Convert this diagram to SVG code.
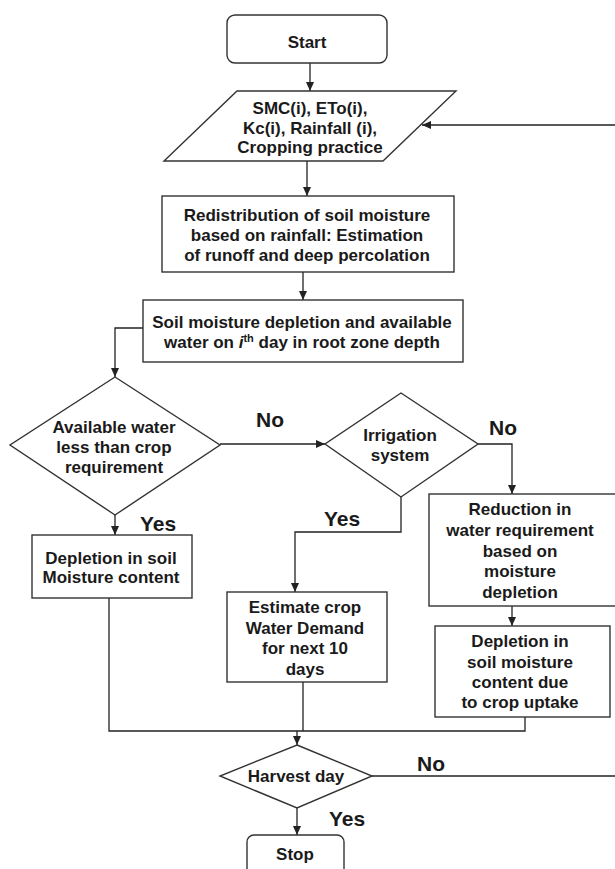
<svg xmlns="http://www.w3.org/2000/svg" width="615" height="869" viewBox="0 0 615 869">
<defs>
<marker id="ah" markerUnits="userSpaceOnUse" markerWidth="9" markerHeight="8" refX="9" refY="4" orient="auto">
<path d="M0,0 L9,4 L0,8 z" fill="#222"/>
</marker>
<style>
.n{fill:#fff;stroke:#333;stroke-width:1.4}
.t{font-family:"Liberation Sans",Arial,sans-serif;font-weight:bold;font-size:17px;fill:#1a1a1a;text-anchor:middle}
.l{font-family:"Liberation Sans",Arial,sans-serif;font-weight:bold;font-size:21px;fill:#1a1a1a;text-anchor:middle}
.c{fill:none;stroke:#222;stroke-width:1.3}
.a{marker-end:url(#ah)}
</style>
</defs>
<rect width="615" height="869" fill="#fff"/>
<g id="connectors">
<path class="c a" d="M310,63 V91"/>
<path class="c a" d="M615,125 H422"/>
<path class="c a" d="M307,161 V196"/>
<path class="c a" d="M303,272 V300"/>
<path class="c a" d="M143,328 H115 V377"/>
<path class="c a" d="M220,444 H325"/>
<path class="c a" d="M478,444 H512 V494"/>
<path class="c a" d="M401,497 V532 H295 V592"/>
<path class="c a" d="M115,515 V535"/>
<path class="c a" d="M512,606 V626"/>
<path class="c" d="M109,598 V731 H525 V717"/>
<path class="c" d="M303,682 V731"/>
<path class="c a" d="M297,731 V745"/>
<path class="c" d="M372,776 H615"/>
<path class="c a" d="M297,808 V835"/>
</g>
<g id="labels">
<text class="l" x="270" y="427">No</text>
<text class="l" x="503" y="435">No</text>
<text class="l" x="158" y="531">Yes</text>
<text class="l" x="342" y="526">Yes</text>
<text class="l" x="431" y="771">No</text>
<text class="l" x="347" y="826">Yes</text>
</g>
<g id="start">
<rect class="n" x="227" y="15" width="160" height="48" rx="8"/>
<text class="t" x="307" y="48">Start</text>
</g>
<g id="input">
<polygon class="n" points="237,91 456,91 383,161 164,161"/>
<text class="t" x="310" y="114">SMC(i), ETo(i),</text>
<text class="t" x="310" y="134">Kc(i), Rainfall (i),</text>
<text class="t" x="310" y="153">Cropping practice</text>
</g>
<g id="redistribution">
<rect class="n" x="162" y="196" width="292" height="76"/>
<text class="t" x="307" y="221">Redistribution of soil moisture</text>
<text class="t" x="307" y="241">based on rainfall: Estimation</text>
<text class="t" x="307" y="261">of runoff and deep percolation</text>
</g>
<g id="soilmoisture">
<rect class="n" x="143" y="300" width="320" height="62"/>
<text class="t" x="302" y="328">Soil moisture depletion and available</text>
<text class="t" x="302" y="348">water on <tspan font-style="italic">i</tspan><tspan font-size="11" dy="-6">th</tspan><tspan dy="6"> day in root zone depth</tspan></text>
</g>
<g id="decision-water">
<polygon class="n" points="115,377 220,445 115,515 10,445"/>
<text class="t" x="114" y="433">Available water</text>
<text class="t" x="114" y="453">less than crop</text>
<text class="t" x="114" y="473">requirement</text>
</g>
<g id="decision-irrigation">
<polygon class="n" points="401,393 478,444 401,497 325,444"/>
<text class="t" x="400" y="441">Irrigation</text>
<text class="t" x="400" y="461">system</text>
</g>
<g id="depletion">
<rect class="n" x="32" y="535" width="160" height="63"/>
<text class="t" x="111" y="564">Depletion in soil</text>
<text class="t" x="111" y="583">Moisture content</text>
</g>
<g id="reduction">
<rect class="n" x="429" y="494" width="195" height="112"/>
<text class="t" x="520" y="515">Reduction in</text>
<text class="t" x="520" y="536">water requirement</text>
<text class="t" x="520" y="557">based on</text>
<text class="t" x="520" y="577">moisture</text>
<text class="t" x="520" y="598">depletion</text>
</g>
<g id="estimate">
<rect class="n" x="227" y="592" width="160" height="90"/>
<text class="t" x="305" y="613">Estimate crop</text>
<text class="t" x="305" y="634">Water Demand</text>
<text class="t" x="305" y="654">for next 10</text>
<text class="t" x="305" y="675">days</text>
</g>
<g id="depletion2">
<rect class="n" x="435" y="626" width="175" height="91"/>
<text class="t" x="520" y="647">Depletion in</text>
<text class="t" x="520" y="668">soil moisture</text>
<text class="t" x="520" y="688">content due</text>
<text class="t" x="520" y="708">to crop uptake</text>
</g>
<g id="harvest">
<polygon class="n" points="297,745 372,776 297,808 220,776"/>
<text class="t" x="296" y="782">Harvest day</text>
</g>
<g id="stop">
<rect class="n" x="247" y="835" width="97" height="50" rx="7"/>
<text class="t" x="295" y="860">Stop</text>
</g>
</svg>
